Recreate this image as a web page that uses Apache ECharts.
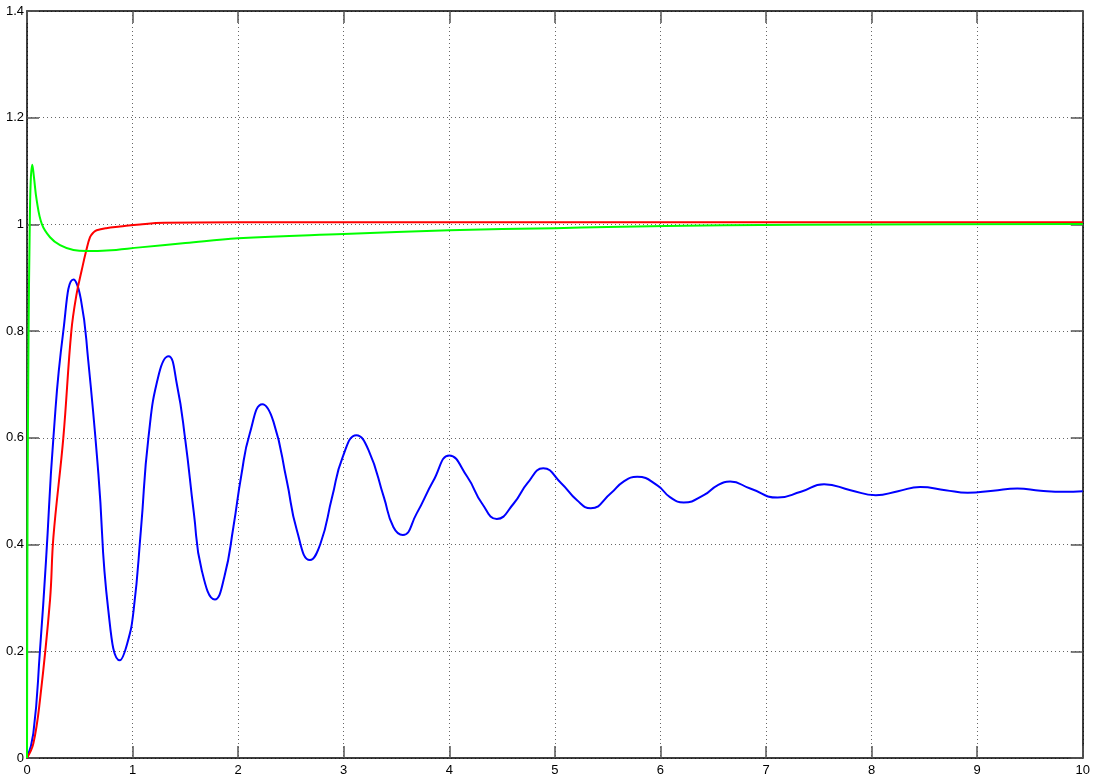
<!DOCTYPE html>
<html>
<head>
<meta charset="utf-8">
<script src="https://cdn.jsdelivr.net/npm/echarts@6/dist/echarts.min.js"></script>
<style>
html,body{margin:0;padding:0;background:#fff;}
#chart{width:1093px;height:778px;}
</style>
</head>
<body>
<div id="chart"></div>
<script>
// Tick labels
const xTicks = ['0','1','2','3','4','5','6','7','8','9','10'];
const yTicks = ['0','0.2','0.4','0.6','0.8','1','1.2','1.4'];

// Blue: damped oscillation settling at 0.5
const blueT = [0,0.06,0.123,0.18,0.25,0.344,0.44,0.51,0.58,0.676,0.77,0.88,0.95,1.01,1.08,1.15,1.25,1.34,1.42,1.50,1.58,1.655,1.78,1.87,1.955,2.03,2.11,2.23,2.335,2.46,2.556,2.68,2.78,2.89,2.99,3.12,3.235,3.38,3.47,3.56,3.69,3.85,4.00,4.17,4.31,4.45,4.61,4.74,4.89,5.06,5.21,5.34,5.53,5.65,5.78,5.97,6.09,6.22,6.41,6.54,6.66,6.85,7.11,7.33,7.55,7.8,8.04,8.25,8.46,8.7,8.91,9.15,9.38,9.6,9.82,10];
const blueV = [0,0.046,0.202,0.37,0.60,0.80,0.897,0.86,0.745,0.533,0.277,0.183,0.215,0.277,0.43,0.60,0.72,0.753,0.70,0.595,0.46,0.352,0.297,0.34,0.433,0.53,0.608,0.663,0.63,0.52,0.427,0.371,0.402,0.489,0.564,0.605,0.577,0.489,0.433,0.418,0.458,0.52,0.567,0.527,0.477,0.448,0.477,0.515,0.543,0.515,0.483,0.468,0.496,0.518,0.527,0.511,0.489,0.479,0.4925,0.511,0.518,0.505,0.488,0.499,0.513,0.502,0.4925,0.5,0.508,0.502,0.497,0.501,0.505,0.501,0.499,0.5];

// Red: fast S-shaped rise to ~1
const redT = [0,0.06,0.123,0.218,0.25,0.344,0.42,0.47,0.518,0.56,0.597,0.63,0.66,0.75,0.88,1.07,1.3,2,4,6,8,10];
const redV = [0,0.027,0.109,0.296,0.414,0.60,0.80,0.87,0.914,0.95,0.976,0.985,0.989,0.993,0.996,1.0,1.003,1.004,1.004,1.004,1.004,1.004];

// Green: spike to ~1.11, dip to ~0.95, slow recovery to 1
const greenT = [0,0.005,0.015,0.025,0.035,0.05,0.065,0.092,0.14,0.218,0.313,0.44,0.566,0.755,1.07,1.5,2,3,4,5,5.5,6.6,8,10];
const greenV = [0,0.45,0.8,0.98,1.08,1.112,1.09,1.045,1.001,0.976,0.961,0.952,0.950,0.951,0.957,0.965,0.974,0.982,0.989,0.993,0.995,0.9985,1.0,1.001];

function pairs(t, v){ return t.map((x,i)=>[x, v[i]]); }

const chart = echarts.init(document.getElementById('chart'), null, {renderer:'canvas'});
const labelFont = {fontFamily:'Liberation Sans, Arial, sans-serif', fontSize:13, color:'#000'};
const tickStyle = {show:true, inside:true, length:12, lineStyle:{color:'#555', width:1.5}};
const axisLineStyle = {show:true, onZero:false, lineStyle:{color:'#000', width:1.5}};

chart.setOption({
  animation:false,
  backgroundColor:'#fff',
  grid:{left:27, right:10, top:11, bottom:20, containLabel:false},
  xAxis:[
    {type:'value', min:0, max:10, interval:1, position:'bottom',
     axisLine:axisLineStyle, axisTick:tickStyle,
     axisLabel:Object.assign({margin:6, formatter:(v)=>xTicks[Math.round(v)]}, labelFont),
     splitLine:{show:true, lineStyle:{color:'#666', type:[1,3], width:1}}},
    {type:'value', min:0, max:10, interval:1, position:'top',
     axisLine:axisLineStyle, axisTick:tickStyle, axisLabel:{show:false}, splitLine:{show:false}}
  ],
  yAxis:[
    {type:'value', min:0, max:1.4, interval:0.2, position:'left',
     axisLine:axisLineStyle, axisTick:tickStyle,
     axisLabel:Object.assign({margin:3, formatter:(v)=>yTicks[Math.round(v/0.2)]}, labelFont),
     splitLine:{show:true, lineStyle:{color:'#666', type:[1,3], width:1}}},
    {type:'value', min:0, max:1.4, interval:0.2, position:'right',
     axisLine:axisLineStyle, axisTick:tickStyle, axisLabel:{show:false}, splitLine:{show:false}}
  ],
  series:[
    {name:'blue', type:'line', data:pairs(blueT, blueV), showSymbol:false, smooth:0.5,
     lineStyle:{color:'#0000ff', width:2}, itemStyle:{color:'#0000ff'}, z:2},
    {name:'red', type:'line', data:pairs(redT, redV), showSymbol:false, smooth:0.4,
     lineStyle:{color:'#ff0000', width:2}, itemStyle:{color:'#ff0000'}, z:3},
    {name:'green', type:'line', data:pairs(greenT, greenV), showSymbol:false, smooth:0.4,
     lineStyle:{color:'#00ff00', width:2}, itemStyle:{color:'#00ff00'}, z:4}
  ]
});
</script>
</body>
</html>
